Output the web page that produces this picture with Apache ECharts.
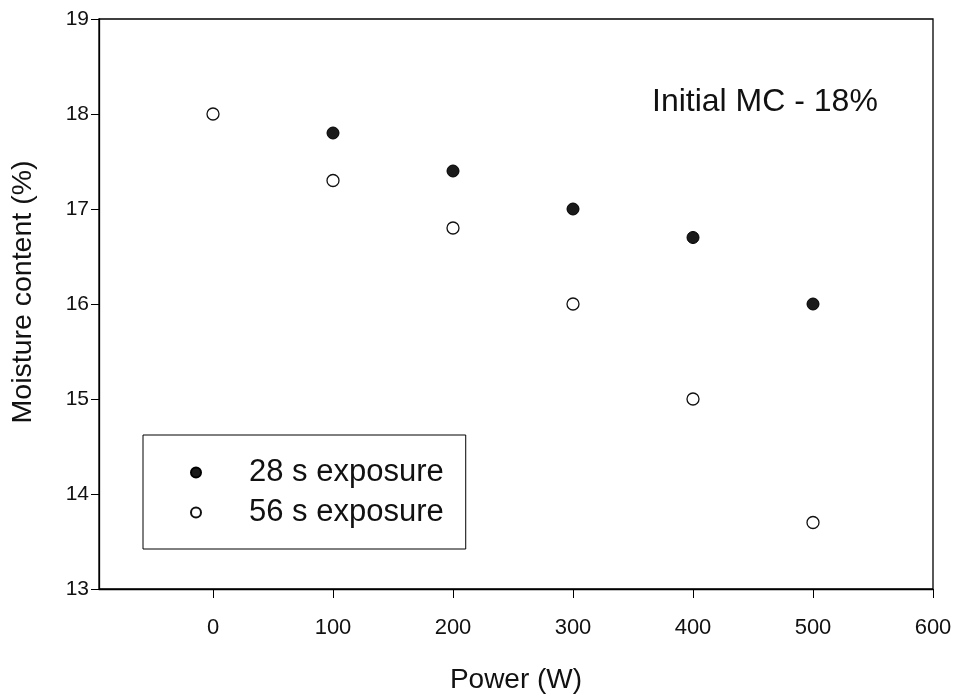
<!DOCTYPE html>
<html>
<head>
<meta charset="utf-8">
<script src="https://cdn.jsdelivr.net/npm/echarts@6/dist/echarts.min.js"></script>
<style>html,body{margin:0;padding:0;background:#fff}#c{width:954px;height:700px}</style>
</head>
<body>
<div id="c"></div>
<script>
var power28 = [100, 200, 300, 400, 500];
var mc28 = [17.8, 17.4, 17.0, 16.7, 16.0];
var power56 = [0, 100, 200, 300, 400, 500];
var mc56 = [18.0, 17.3, 16.8, 16.0, 15.0, 13.7];
var xTicks = [0, 100, 200, 300, 400, 500, 600];
var yTicks = [13, 14, 15, 16, 17, 18, 19];
var seriesNames = ['28 s exposure', '56 s exposure'];
var annotation = 'Initial MC - 18%';

function pairs(xs, ys) { return xs.map(function (x, i) { return [x, ys[i]]; }); }

var FONT = '"Liberation Sans", Arial, sans-serif';
var chart = echarts.init(document.getElementById('c'));
chart.setOption({
  animation: false,
  backgroundColor: '#fff',
  grid: { left: 99, right: 21, top: 19, bottom: 111, show: true, borderColor: '#000', borderWidth: 1.3, outerBoundsMode: 'none', containLabel: false },
  xAxis: {
    type: 'value', min: -95, max: 600,
    name: 'Power (W)', nameLocation: 'middle', nameGap: 77,
    nameTextStyle: { fontFamily: FONT, fontSize: 28, color: '#111' },
    axisLine: { show: true, onZero: false, lineStyle: { color: '#000', width: 1.3 } },
    axisTick: { show: true, inside: false, length: 9, lineStyle: { color: '#000', width: 1 }, customValues: xTicks },
    axisLabel: { fontFamily: FONT, fontSize: 22, color: '#111', margin: 28, customValues: xTicks },
    splitLine: { show: false }
  },
  yAxis: {
    type: 'value', min: 13, max: 19, interval: 1,
    name: 'Moisture content (%)', nameLocation: 'middle', nameGap: 61,
    nameTextStyle: { fontFamily: FONT, fontSize: 28.5, color: '#111', padding: [0, 0, 0, 24] },
    axisLine: { show: true, onZero: false, lineStyle: { color: '#000', width: 1.3 } },
    axisTick: { show: true, inside: false, length: 8, lineStyle: { color: '#000', width: 1 } },
    axisLabel: { fontFamily: FONT, fontSize: 21, color: '#111', margin: 10, customValues: yTicks },
    splitLine: { show: false }
  },
  legend: {
    orient: 'vertical', left: 143, top: 435,
    data: seriesNames,
    backgroundColor: '#fff', borderColor: '#000', borderWidth: 1,
    padding: [22, 22, 21, 47],
    itemWidth: 64, itemHeight: 10, itemGap: 9,
    textStyle: { fontFamily: FONT, fontSize: 31, color: '#111', padding: [0, 0, 0, 16] }
  },
  graphic: [{
    type: 'text', left: 652, top: 86,
    style: { text: annotation, fontFamily: FONT, fontSize: 32, fill: '#111' }
  }],
  series: [
    {
      name: seriesNames[0], type: 'scatter', data: pairs(power28, mc28),
      symbol: 'circle', symbolSize: 12,
      itemStyle: { color: '#1a1a1a', borderColor: '#000', borderWidth: 1, opacity: 1 }
    },
    {
      name: seriesNames[1], type: 'scatter', data: pairs(power56, mc56),
      symbol: 'circle', symbolSize: 12,
      itemStyle: { color: '#fff', borderColor: '#111', borderWidth: 1.3, opacity: 1 }
    }
  ]
});
</script>
</body>
</html>
